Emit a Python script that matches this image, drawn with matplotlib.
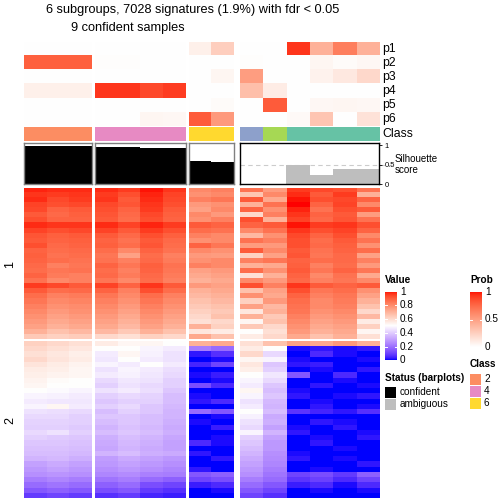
import numpy as np
import matplotlib
matplotlib.use('Agg')
import matplotlib.pyplot as plt
from matplotlib.colors import ListedColormap, to_rgb

plt.rcParams['font.family'] = ['Liberation Sans', 'DejaVu Sans']

# sample classes (15 columns, 4 column groups)
group_sizes = [3, 4, 2, 6]
classes = [2, 2, 2, 4, 4, 4, 4, 6, 6, 3, 5, 1, 1, 1, 1]
class_colors = {1: '#66C2A5', 2: '#FC8D62', 3: '#8DA0CB', 4: '#E78AC3', 5: '#A6D854', 6: '#FFD92F'}
prob_names = ['p1', 'p2', 'p3', 'p4', 'p5', 'p6']

p1 = [0, 0, 0, 0, 0, 0, 0, 0.08, 0.25, 0, 0, 0.92, 0.40, 0.65, 0.40]
p2 = [0.78, 0.78, 0.78, 0.01, 0.01, 0, 0, 0, 0, 0.01, 0, 0, 0.05, 0.02, 0.04]
p3 = [0, 0, 0, 0, 0, 0, 0, 0, 0.05, 0.50, 0, 0, 0.07, 0.12, 0.20]
p4 = [0.08, 0.08, 0.08, 0.92, 0.92, 0.86, 0.90, 0, 0, 0.33, 0.10, 0, 0, 0, 0]
p5 = [0, 0, 0, 0, 0, 0, 0, 0, 0.02, 0, 0.80, 0, 0.04, 0.05, 0.04]
p6 = [0, 0, 0, 0, 0, 0.05, 0.04, 0.80, 0.52, 0, 0, 0.03, 0.30, 0, 0.15]

silhouette = [0.98, 0.98, 0.98, 0.96, 0.96, 0.93, 0.93, 0.60, 0.57, 0, 0, 0.50, 0.24, 0.39, 0.39]
confident = [True] * 9 + [False] * 6

# signature values, row cluster 1 (rows top to bottom, 15 columns)
slice1 = [
    [.98, .97, .97, .97, .95, .99, .96, .80, .82, .85, .75, .95, .93, .92, .85],
    [.96, .95, .96, .95, .92, .98, .94, .78, .80, .65, .80, .97, .90, .95, .70],
    [.97, .93, .95, .96, .90, .97, .93, .82, .84, .90, .72, .99, .92, .93, .88],
    [.94, .92, .93, .93, .91, .96, .92, .76, .78, .70, .85, 1.0, .88, .94, .80],
    [.93, .88, .90, .92, .88, .95, .90, .74, .80, .88, .78, .98, .85, .92, .90],
    [.90, .87, .89, .91, .87, .93, .89, .80, .76, .60, .82, .96, .88, .90, .75],
    [.92, .88, .88, .90, .86, .92, .88, .78, .82, .92, .70, .94, .87, .91, .85],
    [.97, .96, .96, .97, .94, .98, .95, .90, .88, .88, .90, .99, .95, .96, .92],
    [.94, .92, .93, .94, .90, .95, .92, .86, .85, .80, .85, .96, .92, .94, .88],
    [.91, .89, .90, .90, .87, .92, .89, .82, .80, .68, .78, .93, .88, .92, .80],
    [.90, .88, .89, .88, .85, .90, .87, .78, .80, .85, .82, .92, .86, .90, .85],
    [.92, .87, .88, .89, .86, .91, .86, .88, .84, .75, .76, .92, .87, .89, .78],
    [.88, .86, .87, .86, .80, .88, .85, .80, .78, .90, .80, .90, .85, .88, .86],
    [.89, .85, .86, .84, .74, .86, .82, .76, .75, .62, .74, .91, .84, .87, .74],
    [.88, .86, .85, .85, .82, .87, .83, .78, .80, .82, .84, .88, .86, .87, .82],
    [.87, .82, .84, .88, .84, .89, .85, .82, .80, .70, .72, .89, .82, .86, .76],
    [.86, .84, .85, .86, .82, .88, .84, .74, .76, .86, .78, .90, .84, .88, .84],
    [.88, .83, .82, .87, .83, .87, .83, .72, .74, .58, .70, .88, .80, .85, .72],
    [.85, .80, .82, .84, .80, .86, .82, .70, .72, .80, .76, .87, .82, .84, .80],
    [.95, .93, .90, .94, .88, .96, .90, .76, .74, .92, .82, .96, .90, .88, .90],
    [.90, .86, .87, .88, .82, .92, .86, .70, .72, .66, .74, .92, .84, .86, .78],
    [.86, .82, .83, .84, .80, .86, .82, .68, .70, .78, .72, .88, .82, .84, .74],
    [.84, .80, .81, .82, .78, .84, .80, .66, .68, .62, .76, .86, .80, .83, .70],
    [.82, .78, .79, .80, .76, .82, .78, .64, .66, .74, .68, .85, .80, .82, .66],
    [.80, .76, .78, .78, .74, .80, .76, .62, .64, .56, .70, .84, .78, .80, .60],
    [.78, .74, .76, .76, .72, .78, .74, .60, .66, .70, .64, .82, .76, .78, .68],
    [.76, .72, .74, .74, .70, .76, .72, .58, .60, .52, .66, .80, .74, .76, .55],
    [.74, .70, .72, .72, .68, .74, .70, .70, .62, .64, .60, .78, .72, .74, .62],
    [.70, .66, .68, .68, .64, .70, .66, .56, .55, .50, .58, .76, .70, .72, .52],
    [.64, .62, .63, .60, .58, .62, .60, .72, .66, .55, .60, .72, .66, .70, .58],
]

# row cluster 2
slice2 = [
    [.62, .60, .58, .55, .52, .52, .50, .70, .72, .58, .66, .74, .72, .76, .70],
    [.60, .58, .56, .50, .50, .48, .46, .22, .18, .55, .50, .01, .02, .01, .02],
    [.58, .56, .54, .46, .52, .47, .44, .02, .06, .60, .42, .00, .05, .01, .00],
    [.60, .57, .55, .45, .50, .46, .44, .00, .01, .52, .48, .01, .00, .00, .01],
    [.57, .55, .53, .48, .46, .50, .46, .04, .10, .56, .38, .02, .03, .00, .00],
    [.55, .54, .52, .44, .48, .46, .43, .00, .00, .54, .40, .00, .01, .00, .02],
    [.54, .53, .52, .46, .47, .45, .42, .01, .03, .50, .45, .14, .00, .05, .00],
    [.53, .51, .50, .42, .45, .44, .40, .00, .01, .48, .42, .00, .00, .01, .00],
    [.52, .50, .50, .40, .44, .42, .40, .12, .05, .46, .38, .00, .02, .00, .01],
    [.50, .49, .48, .44, .46, .43, .38, .00, .00, .52, .36, .01, .00, .00, .00],
    [.48, .47, .46, .40, .42, .41, .36, .01, .00, .48, .38, .02, .00, .01, .02],
    [.46, .45, .45, .38, .40, .40, .36, .02, .05, .44, .35, .00, .01, .00, .00],
    [.48, .52, .46, .40, .42, .38, .35, .00, .00, .46, .34, .00, .02, .00, .01],
    [.44, .43, .42, .36, .40, .38, .34, .18, .14, .50, .36, .07, .04, .02, .06],
    [.42, .42, .40, .38, .38, .36, .34, .00, .01, .47, .32, .00, .00, .00, .00],
    [.41, .41, .40, .36, .38, .36, .33, .01, .00, .44, .33, .00, .02, .01, .00],
    [.40, .40, .39, .34, .37, .35, .32, .00, .03, .42, .30, .01, .00, .02, .00],
    [.42, .44, .40, .36, .38, .36, .33, .00, .00, .48, .34, .02, .00, .00, .01],
    [.40, .39, .38, .33, .36, .34, .31, .00, .01, .40, .30, .00, .01, .00, .02],
    [.38, .38, .37, .32, .35, .33, .30, .05, .01, .38, .28, .00, .02, .00, .00],
    [.37, .37, .36, .31, .34, .32, .30, .00, .00, .36, .28, .00, .00, .01, .00],
    [.36, .36, .35, .34, .36, .33, .32, .02, .00, .34, .26, .01, .00, .00, .00],
    [.34, .35, .33, .29, .32, .30, .28, .00, .02, .32, .25, .02, .00, .01, .00],
    [.30, .32, .30, .28, .30, .28, .26, .00, .00, .30, .24, .00, .00, .00, .02],
    [.28, .30, .28, .26, .28, .26, .24, .02, .00, .28, .22, .00, .01, .00, .00],
    [.26, .27, .26, .24, .25, .23, .22, .14, .16, .26, .20, .10, .12, .08, .16],
    [.22, .24, .22, .20, .22, .18, .16, .10, .12, .22, .18, .07, .09, .05, .10],
    [.18, .20, .18, .16, .18, .12, .10, .03, .05, .18, .14, .03, .05, .01, .05],
    [.14, .16, .14, .12, .14, .08, .06, .00, .01, .14, .10, .00, .01, .00, .01],
    [.08, .10, .08, .06, .08, .04, .03, .00, .00, .10, .06, .00, .00, .00, .00],
]

W = H = 504
fig = plt.figure(figsize=(W / 100, H / 100), dpi=100)

def px_axes(x0, y0, x1, y1):
    ax = fig.add_axes([x0 / W, 1 - y1 / H, (x1 - x0) / W, (y1 - y0) / H])
    return ax

def clean(ax):
    ax.set_xticks([])
    ax.set_yticks([])
    for s in ax.spines.values():
        s.set_visible(False)

# colour ramps interpolated in LAB space (like colorRamp2 in R)
M = np.array([[0.4124, 0.3576, 0.1805], [0.2126, 0.7152, 0.0722], [0.0193, 0.1192, 0.9505]])
WHITE = np.array([0.95047, 1.0, 1.08883])

def rgb2lab(c):
    c = np.array(to_rgb(c))
    lin = np.where(c <= 0.04045, c / 12.92, ((c + 0.055) / 1.055) ** 2.4)
    xyz = M @ lin / WHITE
    f = np.where(xyz > 0.008856, np.cbrt(xyz), 7.787 * xyz + 16 / 116)
    return np.array([116 * f[1] - 16, 500 * (f[0] - f[1]), 200 * (f[1] - f[2])])

def lab2rgb(lab):
    fy = (lab[0] + 16) / 116
    fx = fy + lab[1] / 500
    fz = fy - lab[2] / 200
    f = np.array([fx, fy, fz])
    xyz = np.where(f ** 3 > 0.008856, f ** 3, (f - 16 / 116) / 7.787) * WHITE
    lin = np.clip(np.linalg.solve(M, xyz), 0, 1)
    c = np.where(lin <= 0.0031308, 12.92 * lin, 1.055 * lin ** (1 / 2.4) - 0.055)
    return np.clip(c, 0, 1)

def lab_ramp(stops, colors, n=256):
    labs = [rgb2lab(c) for c in colors]
    out = []
    for t in np.linspace(0, 1, n):
        k = min(np.searchsorted(stops, t, side='right') - 1, len(stops) - 2)
        u = (t - stops[k]) / (stops[k + 1] - stops[k])
        out.append(lab2rgb(labs[k] * (1 - u) + labs[k + 1] * u))
    return ListedColormap(out)

val_cmap = lab_ramp([0, 0.5, 1], ['#0000FF', '#FFFFFF', '#FF0000'])
prob_cmap = lab_ramp([0, 1], ['#FFFFFF', '#FF0000'])

prob = np.array([p1, p2, p3, p4, p5, p6])
s1 = np.array(slice1)
s2 = np.array(slice2)

group_x = [(24, 92), (95, 185.7), (189, 233.7), (240, 379.3)]
border_cols = ['#808080', '#808080', '#808080', 'black']

start = 0
for g, n in enumerate(group_sizes):
    cols = slice(start, start + n)
    x0, x1 = group_x[g]

    ax = px_axes(x0, 41.7, x1, 126.3)
    ax.imshow(prob[:, cols], cmap=prob_cmap, vmin=0, vmax=1, aspect='auto', interpolation='nearest')
    clean(ax)

    ax = px_axes(x0, 127.2, x1, 141.3)
    rgb = np.array([[to_rgb(class_colors[c]) for c in classes[cols]]])
    ax.imshow(rgb, aspect='auto', interpolation='nearest')
    clean(ax)

    ax = px_axes(x0, 142.7, x1, 184.3)
    bar_cols = ['black' if c else '#BEBEBE' for c in confident[cols]]
    if g == 3:
        ax.plot([-0.5, 6.1], [0.5, 0.5], ls=(0, (4, 3)), color='#CCCCCC', lw=0.8, clip_on=False, zorder=0)
    ax.bar(np.arange(n), silhouette[cols], width=1, color=bar_cols, zorder=2)
    ax.set_xlim(-0.5, n - 0.5)
    ax.set_ylim(0, 1.067)
    ax.set_xticks([])
    ax.set_yticks([])
    for s in ax.spines.values():
        s.set_color(border_cols[g])
        s.set_linewidth(1.0)
    if g == 3:
        ax.yaxis.tick_right()
        ax.set_yticks([0, 0.5, 1])
        ax.set_yticklabels(['0', '0.5', '1'], fontsize=5.5)
        ax.tick_params(axis='y', length=2.5, width=0.6, pad=1.5)

    ax = px_axes(x0, 187.5, x1, 339)
    ax.imshow(s1[:, cols], cmap=val_cmap, vmin=0, vmax=1, aspect='auto', interpolation='nearest')
    clean(ax)

    ax = px_axes(x0, 341.3, x1, 498.3)
    ax.imshow(s2[:, cols], cmap=val_cmap, vmin=0, vmax=1, aspect='auto', interpolation='nearest')
    clean(ax)

    start += n

def ftext(x, y, s, **kw):
    fig.text(x / W, 1 - y / H, s, **kw)

# titles
ftext(193, 10, '6 subgroups, 7028 signatures (1.9%) with fdr < 0.05', ha='center', va='center', fontsize=9.2)
ftext(128, 28, '9 confident samples', ha='center', va='center', fontsize=9.2)

for i, name in enumerate(prob_names):
    ftext(382.5, 48.8 + i * 14.1, name, ha='left', va='center', fontsize=8.8)
ftext(382.5, 134.5, 'Class', ha='left', va='center', fontsize=8.8)
ftext(395, 159, 'Silhouette', ha='left', va='center', fontsize=7)
ftext(395, 170, 'score', ha='left', va='center', fontsize=7)

ftext(10, 265, '1', ha='center', va='center', rotation=90, fontsize=9)
ftext(10, 420, '2', ha='center', va='center', rotation=90, fontsize=9)

# legends
grad = np.linspace(1, 0, 200).reshape(-1, 1)

ftext(385, 280, 'Value', ha='left', va='center', fontsize=7.2, fontweight='bold')
ax = px_axes(385, 291.7, 397, 360.3)
ax.imshow(grad, cmap=val_cmap, vmin=0, vmax=1, aspect='auto', extent=[0, 1, 0, 1])
clean(ax)
for t in [0.2, 0.4, 0.6, 0.8]:
    ax.plot([0, 0.2], [t, t], color='white', lw=0.7)
    ax.plot([0.8, 1], [t, t], color='white', lw=0.7)
for t, lab in zip([1, 0.8, 0.6, 0.4, 0.2, 0], ['1', '0.8', '0.6', '0.4', '0.2', '0']):
    ftext(400, 360.3 - t * 68.6, lab, ha='left', va='center', fontsize=7.2)

ftext(470, 280, 'Prob', ha='left', va='center', fontsize=7.2, fontweight='bold')
ax = px_axes(470, 291.7, 482, 347.3)
ax.imshow(grad, cmap=prob_cmap, vmin=0, vmax=1, aspect='auto', extent=[0, 1, 0, 1])
clean(ax)
ax.plot([0, 0.2], [0.5, 0.5], color='white', lw=0.7)
ax.plot([0.8, 1], [0.5, 0.5], color='white', lw=0.7)
for t, lab in zip([1, 0.5, 0], ['1', '0.5', '0']):
    ftext(485, 347.3 - t * 55.6, lab, ha='left', va='center', fontsize=7.2)

ftext(470, 364, 'Class', ha='left', va='center', fontsize=7.2, fontweight='bold')
for i, c in enumerate([2, 4, 6]):
    yc = 379 + i * 12
    ax = px_axes(470, yc - 5.5, 481, yc + 5.5)
    ax.set_facecolor(class_colors[c])
    clean(ax)
    ftext(484, yc, str(c), ha='left', va='center', fontsize=7.2)

ftext(385, 378, 'Status (barplots)', ha='left', va='center', fontsize=7.2, fontweight='bold')
for i, (lab, col) in enumerate([('confident', 'black'), ('ambiguous', '#BEBEBE')]):
    yc = 392 + i * 12
    ax = px_axes(385, yc - 5.5, 396, yc + 5.5)
    ax.set_facecolor(col)
    clean(ax)
    ftext(400, yc, lab, ha='left', va='center', fontsize=7.2)

fig.savefig('out.png', dpi=100)
